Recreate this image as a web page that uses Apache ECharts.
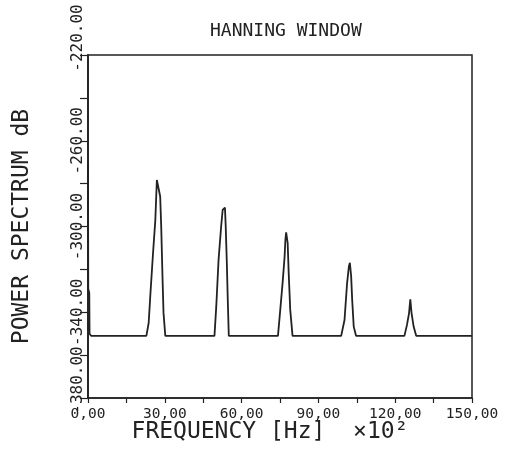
<!DOCTYPE html>
<html>
<head>
<meta charset="utf-8">
<script src="https://cdn.jsdelivr.net/npm/echarts@6/dist/echarts.min.js"></script>
<style>
html,body{margin:0;padding:0;background:#fff;}
#chart{width:509px;height:452px;}
</style>
</head>
<body>
<div id="chart"></div>
<script>
// ---- data ----
const titleText = 'HANNING WINDOW';
const xName = 'FREQUENCY [Hz]  \u00d710\u00b2';
const yName = 'POWER SPECTRUM dB';
const xTickValues = [0, 30, 60, 90, 120, 150];
const xTickLabels = ['0,00', '30,00', '60,00', '90,00', '120,00', '150,00'];
const yTickValues = [-380, -340, -300, -260, -220];
const yTickLabels = ['-380.00', '-340.00', '-300.00', '-260.00', '-220.00'];

// frequency (x10^2 Hz) and power (dB) of the traced spectrum
const frequency = [
  0, 0.1, 0.5, 0.6, 1.2,
  22.8, 23.7, 24.4, 25.4, 26.3, 26.7, 26.9, 27.6, 28.2, 28.6, 29.1, 29.5, 30.2,
  49.4, 50.1, 51.0, 52.0, 52.6, 53.0, 53.5, 53.8, 54.2, 54.6, 55.0,
  74.2, 75.1, 76.0, 76.8, 77.1, 77.4, 78.0, 78.4, 79.0, 79.9,
  98.9, 100.2, 101.2, 101.9, 102.3, 102.8, 103.2, 103.8, 104.7,
  123.6, 124.6, 125.4, 125.9, 126.4, 127.2, 128.2,
  150
];
const power = [
  -271, -329, -331, -350, -351,
  -351, -345, -331, -312.5, -297, -284.5, -278.3, -278, -286, -300, -323.4, -340.3, -351,
  -351, -337.4, -315.6, -300.1, -292.3, -291.5, -291.2, -300.1, -315.6, -334.3, -351,
  -351, -338.9, -326.5, -314.1, -306.3, -302.7, -307.8, -321.8, -338.9, -351,
  -351, -343.6, -326.5, -318.7, -316.9, -323.4, -334.3, -346.7, -351,
  -351, -345.9, -340.5, -334, -340.5, -346.7, -351,
  -351
];

const ink = '#222';
const mono = 'DejaVu Sans Mono';
const seriesData = frequency.map((f, i) => [f, power[i]]);

const chart = echarts.init(document.getElementById('chart'), null, {renderer: 'canvas'});
chart.setOption({
  animation: false,
  backgroundColor: '#fff',
  title: {
    text: titleText,
    left: 205,
    top: 17,
    textStyle: {fontFamily: mono, fontSize: 18, fontWeight: 'normal', color: ink}
  },
  grid: {
    left: 88, right: 37, top: 55, bottom: 54,
    outerBoundsMode: 'none',
    containLabel: false,
    show: true, borderColor: ink, borderWidth: 1.5, backgroundColor: 'transparent'
  },
  xAxis: {
    type: 'value',
    min: 0, max: 150, interval: 15,
    name: xName,
    nameLocation: 'middle',
    nameGap: 23,
    nameMoveOverlap: false,
    nameTextStyle: {fontFamily: mono, fontSize: 23, color: ink, padding: [0, 20, 0, 0]},
    axisLine: {show: true, lineStyle: {color: ink, width: 1.5}},
    axisTick: {show: true, inside: false, length: 5, lineStyle: {color: ink, width: 1.2}},
    splitLine: {show: false},
    axisLabel: {
      margin: 9,
      fontFamily: mono, fontSize: 14.5, color: ink,
      formatter: function (v) {
        const i = xTickValues.indexOf(v);
        return i >= 0 ? xTickLabels[i] : '';
      }
    }
  },
  yAxis: {
    type: 'value',
    min: -380, max: -220, interval: 20,
    name: yName,
    nameLocation: 'middle',
    nameGap: 54,
    nameMoveOverlap: false,
    nameTextStyle: {fontFamily: mono, fontSize: 23, color: ink},
    axisLine: {show: true, lineStyle: {color: ink, width: 1.8}},
    axisTick: {show: true, inside: false, length: 8, lineStyle: {color: ink, width: 1.2}},
    splitLine: {show: false},
    axisLabel: {
      rotate: 90,
      margin: 2,
      fontFamily: mono, fontSize: 16, color: ink,
      formatter: function (v) {
        const i = yTickValues.indexOf(v);
        if (i < 0) return '';
        if (v === -220) return '{t|' + yTickLabels[i] + '}';
        if (v === -380) return '{b|' + yTickLabels[i] + '}';
        return yTickLabels[i];
      },
      rich: {
        t: {fontFamily: mono, fontSize: 16, color: ink, padding: [0, 0, 0, 34]},
        b: {fontFamily: mono, fontSize: 16, color: ink, padding: [0, 0, 0, 36]}
      }
    }
  },
  series: [{
    type: 'line',
    data: seriesData,
    symbol: 'none',
    smooth: false,
    lineStyle: {color: ink, width: 1.8},
    clip: true
  }]
});
</script>
</body>
</html>
